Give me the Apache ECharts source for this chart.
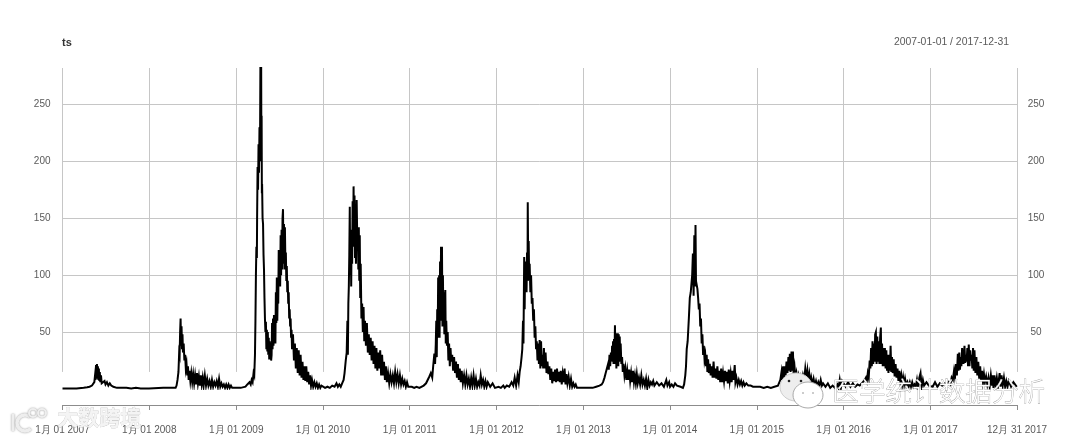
<!DOCTYPE html>
<html>
<head>
<meta charset="utf-8">
<style>html,body{margin:0;padding:0;background:#fff}#c{width:1080px;height:441px}</style>
<script src="https://cdn.jsdelivr.net/npm/echarts@6/dist/echarts.min.js"></script>
</head>
<body>
<div id="c"></div>
<script>
// [day of year, value]
const y2007 = [[1,.5],[60,.5],[90,1],[105,1.5],[115,2],[125,3],[130,4],[135,6],[138,12],[140,8],[142,21],[144,10],[146,22],[148,9],[150,20],[152,8],[154,18],[156,7],[158,15],[160,6],[163,12],[166,5],[170,6],[174,4],[178,7],[182,4],[188,6],[194,3],[200,5],[206,3],[215,2],[230,1],[250,1],[270,1],[290,.5],[310,1],[330,.5],[365,.5]];
const y2008 = [[1,1],[60,1],[100,1],[112,1],[116,3],[120,8],[124,15],[127,32],[129,30],[131,50],[133,62],[135,38],[137,55],[139,35],[141,48],[143,32],[146,40],[149,25],[152,30],[155,18],[158,22],[161,12],[164,20],[167,8],[170,16],[174,7],[178,14],[182,6],[186,13],[190,5],[194,12],[198,4],[202,14],[206,5],[210,11],[214,3],[218,12],[222,4],[226,10],[230,3],[235,12],[240,3],[245,9],[250,3],[255,7],[260,2],[265,8],[270,2],[275,6],[280,3],[285,7],[290,2],[295,9],[300,2],[305,5],[310,2],[315,4],[320,1],[325,4],[330,1],[335,4],[340,1],[345,3],[350,1],[355,2],[362,1]];
const y2009 = [[1,1],[20,1],[40,2],[48,4],[52,3],[57,6],[62,4],[66,8],[70,6],[74,14],[77,12],[80,30],[82,60],[84,100],[86,125],[88,115],[89,150],[91,195],[93,175],[95,215],[97,190],[99,230],[101,200],[103,290],[105,250],[106,295],[107,205],[108,240],[109,172],[110,180],[112,150],[114,145],[116,118],[118,105],[120,80],[122,62],[124,50],[126,59],[128,35],[130,52],[132,33],[134,50],[136,30],[138,45],[140,26],[142,42],[144,27],[146,40],[148,25],[150,30],[152,58],[154,35],[156,62],[158,38],[160,65],[162,42],[164,64],[166,40],[168,85],[170,58],[172,98],[174,60],[176,90],[178,75],[180,122],[182,95],[184,118],[186,90],[188,135],[190,100],[192,140],[194,105],[196,150],[198,158],[200,110],[202,145],[204,105],[206,142],[208,112],[210,120],[212,95],[214,108],[216,85],[218,95],[220,75],[222,85],[224,62],[226,70],[228,55],[230,62],[232,45],[234,52],[236,35],[240,48],[244,25],[248,40],[252,18],[256,36],[260,14],[264,34],[268,12],[272,30],[276,10],[280,24],[284,8],[288,20],[292,7],[296,20],[300,6],[304,15],[308,4],[312,12],[316,3],[320,8],[325,2],[330,6],[335,2],[340,5],[345,1],[350,4],[355,1],[360,3]];
const y2010 = [[1,2],[10,1],[20,2],[30,1],[40,3],[50,2],[58,5],[64,2],[70,4],[76,2],[84,6],[88,8],[92,14],[97,25],[101,32],[104,60],[106,30],[108,75],[110,90],[112,118],[114,160],[116,100],[118,130],[120,90],[122,140],[124,110],[126,165],[128,125],[130,178],[132,130],[134,170],[136,115],[138,160],[140,110],[143,166],[146,125],[148,142],[150,105],[152,142],[154,95],[156,135],[158,80],[160,110],[163,62],[166,75],[169,50],[172,72],[175,42],[178,60],[182,38],[186,58],[190,32],[194,48],[198,30],[202,45],[206,25],[210,42],[214,22],[218,38],[222,18],[226,36],[230,16],[234,32],[238,18],[242,34],[246,12],[250,30],[254,12],[258,24],[262,8],[266,20],[270,6],[275,14],[280,5],[285,13],[290,6],[295,12],[300,5],[305,15],[310,6],[315,13],[320,5],[325,12],[330,4],[335,9],[340,4],[345,7],[350,2],[355,6],[360,2]];
const y2011 = [[1,3],[10,2],[20,1],[30,2],[42,1],[50,2],[60,3],[70,5],[78,6],[84,11],[90,14],[96,10],[100,20],[105,31],[108,22],[111,40],[113,60],[115,28],[117,70],[119,45],[121,98],[123,50],[125,100],[127,45],[129,112],[131,60],[133,125],[135,62],[137,125],[139,55],[141,100],[143,60],[145,85],[147,48],[149,72],[151,87],[153,40],[155,60],[158,38],[161,50],[164,25],[167,40],[170,20],[173,36],[176,24],[180,30],[184,16],[188,28],[192,14],[196,24],[200,10],[204,22],[208,8],[212,18],[216,6],[220,16],[225,5],[230,12],[235,4],[240,12],[245,4],[250,9],[255,2],[260,10],[265,3],[270,12],[275,3],[280,9],[285,2],[290,6],[295,3],[300,12],[305,4],[310,8],[315,2],[320,7],[325,2],[330,6],[340,2],[350,5],[360,1]];
const y2012 = [[1,1],[10,2],[20,1],[30,3],[36,1],[45,3],[55,2],[65,6],[72,3],[78,10],[84,3],[90,12],[95,6],[99,15],[103,20],[107,28],[110,35],[113,60],[115,40],[118,116],[120,70],[122,112],[124,85],[126,108],[128,85],[130,120],[132,95],[133,164],[135,105],[137,130],[139,95],[141,110],[144,85],[147,100],[150,75],[153,80],[156,60],[159,70],[162,45],[165,55],[168,35],[171,42],[174,25],[177,40],[180,22],[183,43],[186,18],[189,42],[192,20],[195,30],[198,18],[201,36],[204,18],[208,32],[212,14],[216,24],[220,13],[224,20],[228,8],[232,18],[236,5],[240,15],[244,7],[248,17],[252,6],[256,18],[260,7],[264,15],[268,6],[272,16],[276,4],[280,13],[284,6],[288,18],[292,4],[296,13],[300,5],[305,11],[310,3],[315,9],[320,2],[325,5],[330,2],[335,4],[340,1],[350,1],[360,1]];
const y2013 = [[1,1],[20,1],[40,1],[55,2],[69,3],[78,4],[84,6],[90,10],[95,14],[100,18],[105,22],[108,17],[111,30],[114,20],[117,32],[120,25],[122,38],[124,24],[126,42],[128,22],[130,44],[132,26],[134,56],[136,22],[138,42],[140,18],[142,49],[144,22],[146,49],[148,20],[150,48],[152,24],[154,46],[156,28],[158,40],[161,22],[164,28],[167,15],[170,22],[174,12],[178,18],[182,8],[186,16],[190,8],[194,17],[198,7],[202,14],[206,6],[210,16],[214,6],[218,12],[222,5],[226,13],[230,5],[235,10],[240,4],[245,12],[250,4],[255,8],[260,3],[265,9],[270,1],[275,8],[280,3],[285,6],[290,4],[295,7],[300,3],[310,6],[320,3],[330,5],[340,2],[350,8],[355,3],[362,6]];
const y2014 = [[1,2],[8,4],[15,2],[22,5],[30,3],[38,4],[45,2],[52,3],[55,1],[60,4],[65,12],[68,20],[71,35],[75,42],[80,62],[84,80],[88,85],[91,85],[94,100],[97,119],[100,82],[103,135],[106,90],[108,144],[110,95],[113,96],[116,88],[119,80],[122,70],[125,75],[128,55],[131,62],[134,40],[137,48],[140,30],[143,38],[146,26],[149,30],[152,20],[155,30],[158,15],[161,26],[164,14],[168,22],[172,12],[176,20],[180,10],[184,24],[188,10],[192,18],[196,9],[200,20],[204,8],[208,16],[212,6],[216,18],[220,6],[224,14],[228,7],[232,16],[236,7],[240,15],[244,5],[248,17],[252,7],[256,14],[260,6],[264,16],[268,8],[273,21],[276,6],[280,10],[285,4],[290,8],[295,4],[300,7],[305,3],[310,6],[315,3],[322,5],[330,3],[340,3],[350,2],[360,2]];
const y2015 = [[1,2],[15,2],[30,1],[45,2],[60,1],[75,2],[90,3],[97,3],[100,8],[105,15],[108,8],[112,20],[115,10],[118,20],[122,12],[126,24],[130,14],[134,28],[137,16],[140,31],[143,15],[147,33],[150,16],[153,33],[156,12],[160,19],[164,9],[168,14],[172,8],[176,12],[180,7],[185,11],[190,6],[195,12],[200,7],[205,18],[210,9],[214,16],[218,7],[222,13],[226,5],[230,10],[235,4],[240,9],[245,3],[250,7],[255,2],[260,6],[265,3],[270,8],[275,3],[280,5],[290,2],[300,5],[310,1],[320,3],[330,1],[340,4],[345,1],[350,8],[355,1],[360,7]];
const y2016 = [[1,5],[10,2],[20,6],[30,2],[40,5],[50,2],[60,4],[69,3],[78,5],[85,4],[90,8],[95,10],[99,7],[103,14],[107,10],[111,25],[114,18],[117,36],[120,20],[123,42],[126,22],[129,40],[132,24],[134,48],[137,50],[140,22],[143,46],[146,24],[149,42],[152,22],[155,45],[158,54],[160,22],[163,40],[166,20],[169,36],[172,20],[175,36],[178,18],[181,34],[184,16],[187,30],[190,14],[193,30],[196,16],[199,38],[202,15],[205,28],[208,14],[212,26],[216,11],[220,22],[224,10],[228,18],[232,7],[236,16],[240,7],[244,12],[248,4],[252,10],[256,4],[260,9],[265,3],[270,6],[275,2],[280,6],[285,2],[290,6],[295,2],[300,4],[305,2],[310,8],[315,1],[320,10],[325,14],[330,2],[335,8],[340,3],[350,6],[360,3]];
const y2017 = [[1,4],[10,2],[20,6],[30,2],[40,5],[50,3],[61,5],[70,3],[78,6],[85,4],[90,10],[95,8],[100,16],[104,10],[108,22],[112,12],[116,31],[119,16],[122,32],[125,17],[128,28],[131,20],[134,36],[137,37],[140,22],[144,38],[147,23],[150,30],[153,24],[156,36],[159,20],[162,39],[165,20],[168,34],[171,25],[174,30],[177,18],[180,36],[183,16],[186,34],[190,14],[194,28],[198,12],[202,24],[206,9],[210,20],[214,8],[218,16],[222,6],[226,13],[230,6],[235,11],[240,4],[245,10],[250,2],[255,12],[260,3],[263,12],[266,1],[270,12],[275,3],[280,10],[285,2],[292,14],[296,2],[300,12],[305,3],[310,10],[315,2],[320,7],[325,2],[330,7],[340,2],[350,6],[364,2]];

const years = [2007,2008,2009,2010,2011,2012,2013,2014,2015,2016,2017];
const yearSeries = [y2007,y2008,y2009,y2010,y2011,y2012,y2013,y2014,y2015,y2016,y2017];
const tickDates = ['2007-01-01','2008-01-01','2009-01-01','2010-01-01','2011-01-01','2012-01-01','2013-01-01','2014-01-01','2015-01-01','2016-01-01','2017-01-01','2017-12-31'];
const tickLabels = ['1月 01 2007','1月 01 2008','1月 01 2009','1月 01 2010','1月 01 2011','1月 01 2012','1月 01 2013','1月 01 2014','1月 01 2015','1月 01 2016','1月 01 2017','12月 31 2017'];

const DAY = 86400000;
const points = [];
yearSeries.forEach((rows, i) => rows.forEach(r => points.push([Date.UTC(years[i], 0, 1) + (r[0] - 1) * DAY, r[1]])));
const tickTimes = tickDates.map(d => Date.parse(d + 'T00:00:00Z'));
const labelOf = new Map(tickTimes.map((t, i) => [t, tickLabels[i]]));

const FONT = '"Liberation Sans", Arial, sans-serif';
const CJK = '"Noto Sans CJK SC", sans-serif';
const GRID = '#c6c6c6';
const TXT = '#5a5a5a';

const chart = echarts.init(document.getElementById('c'), null, { renderer: 'canvas' });
chart.setOption({
  animation: false,
  backgroundColor: '#fff',
  title: [
    { text: 'ts', left: 57, top: 32, textStyle: { fontFamily: FONT, fontSize: 11, fontWeight: 'bold', color: '#333' } },
    { text: '2007-01-01 / 2017-12-31', right: 66, top: 32, textStyle: { fontFamily: FONT, fontSize: 10.4, fontWeight: 'normal', color: TXT } }
  ],
  grid: { left: 62.5, right: 63, top: 68, height: 321, containLabel: false },
  xAxis: {
    type: 'value',
    min: tickTimes[0],
    max: tickTimes[tickTimes.length - 1],
    offset: 16,
    axisLine: { show: true, onZero: false, lineStyle: { color: '#8c8c8c', width: 1 } },
    axisTick: { show: true, length: 5, customValues: tickTimes, lineStyle: { color: '#8c8c8c' } },
    splitLine: { show: false },
    axisLabel: {
      customValues: tickTimes,
      margin: 20,
      hideOverlap: false,
      showMinLabel: true,
      showMaxLabel: true,
      fontFamily: FONT,
      fontSize: 10,
      color: TXT,
      formatter: v => labelOf.get(v) || ''
    }
  },
  yAxis: [
    {
      type: 'value', min: 0, max: 282, interval: 50,
      axisLine: { show: false }, axisTick: { show: false },
      axisLabel: { showMinLabel: false, showMaxLabel: false, margin: 12, fontFamily: FONT, fontSize: 10, color: TXT },
      splitLine: { show: true, showMinLine: false, showMaxLine: false, lineStyle: { color: GRID, width: 1 } }
    },
    {
      type: 'value', min: 0, max: 282, interval: 50, position: 'right',
      axisLine: { show: false }, axisTick: { show: false },
      axisLabel: { showMinLabel: false, showMaxLabel: false, margin: 19, align: 'center', fontFamily: FONT, fontSize: 10, color: TXT },
      splitLine: { show: false }
    }
  ],
  series: [
    {
      name: 'gridlines', type: 'line', z: 1, data: [], silent: true,
      markLine: {
        silent: true, symbol: 'none', animation: false,
        label: { show: false },
        lineStyle: { color: GRID, width: 1, type: 'solid' },
        data: tickTimes.map(t => [{ coord: [t, 15] }, { coord: [t, 282] }])
      }
    },
    {
      name: 'ts', type: 'line', z: 3, data: points, showSymbol: false, clip: true,
      lineStyle: { color: '#000', width: 2, join: 'miter' }
    }
  ],
  graphic: [
    // left watermark
    { type: 'line', z: 50, silent: true, shape: { x1: 13, y1: 414, x2: 13, y2: 431 }, style: { stroke: '#eee', lineWidth: 3, shadowBlur: 2, shadowColor: '#999' } },
    { type: 'arc', z: 50, silent: true, shape: { cx: 25, cy: 423, r: 8, startAngle: 0.8, endAngle: 5.4 }, style: { stroke: '#eee', lineWidth: 3.5, fill: null, shadowBlur: 2, shadowColor: '#999' } },
    { type: 'ring', z: 50, silent: true, shape: { cx: 33, cy: 413, r: 5, r0: 3 }, style: { fill: '#eee', shadowBlur: 2, shadowColor: '#999' } },
    { type: 'ring', z: 50, silent: true, shape: { cx: 42, cy: 413, r: 5, r0: 3 }, style: { fill: '#eee', shadowBlur: 2, shadowColor: '#999' } },
    { type: 'text', z: 50, silent: true, left: 57, top: 406, style: { text: '大数跨境', fill: '#f4f4f4', stroke: '#aaa', lineWidth: 0.4, font: '700 21px ' + CJK, shadowBlur: 2, shadowColor: '#888' } },
    // right watermark
    { type: 'ellipse', z: 50, silent: true, shape: { cx: 796, cy: 387, rx: 16, ry: 14 }, style: { fill: '#eee', stroke: '#ccc', lineWidth: 1 } },
    { type: 'circle', z: 51, silent: true, shape: { cx: 789, cy: 381, r: 1.3 }, style: { fill: '#222' } },
    { type: 'circle', z: 51, silent: true, shape: { cx: 801, cy: 381, r: 1.3 }, style: { fill: '#222' } },
    { type: 'ellipse', z: 52, silent: true, shape: { cx: 808, cy: 395, rx: 15, ry: 13 }, style: { fill: '#fff', stroke: '#aaa', lineWidth: 1 } },
    { type: 'circle', z: 53, silent: true, shape: { cx: 803, cy: 393, r: 1 }, style: { fill: '#bbb' } },
    { type: 'circle', z: 53, silent: true, shape: { cx: 813, cy: 393, r: 1 }, style: { fill: '#bbb' } },
    { type: 'text', z: 54, silent: true, left: 832, top: 377, style: { text: '医学统计数据分析', fill: '#fff', stroke: '#9a9a9a', lineWidth: 0.7, font: '300 26.6px ' + CJK } }
  ]
});
</script>
</body>
</html>
